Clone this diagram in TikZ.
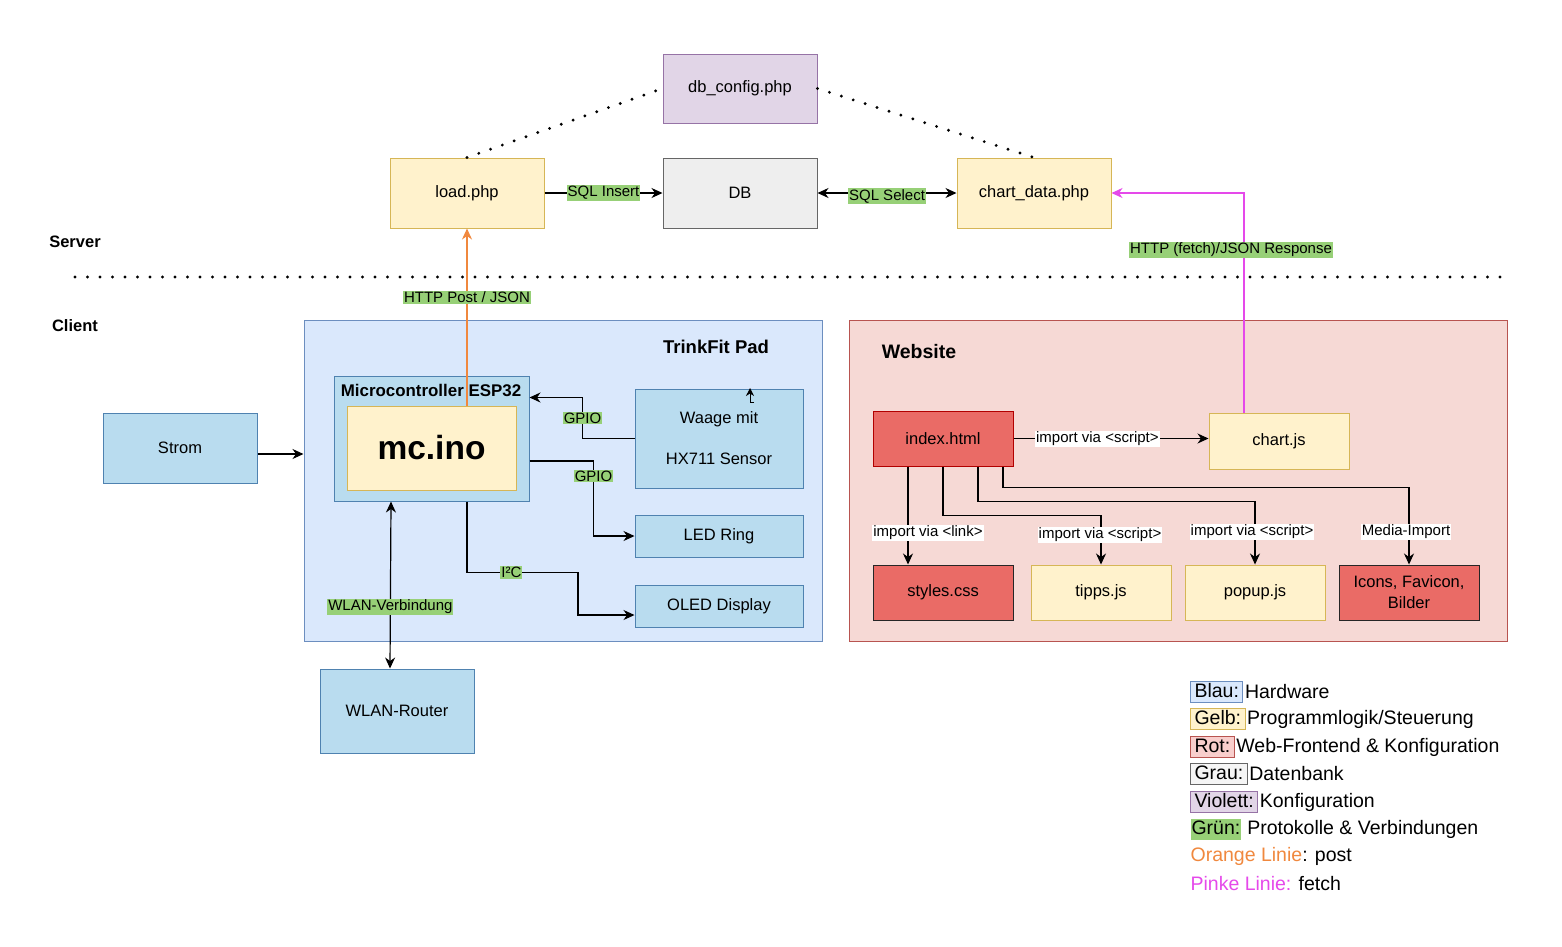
\documentclass[tikz,border=0pt]{standalone}
\usepackage{fontspec}
\setmainfont{Liberation Sans}
\usetikzlibrary{arrows.meta}

\definecolor{gelbF}{HTML}{FFF2CC}
\definecolor{gelbR}{HTML}{D6B656}
\definecolor{hwF}{HTML}{B9DCEF}
\definecolor{hwR}{HTML}{4F82B0}
\definecolor{blauF}{HTML}{DAE8FC}
\definecolor{blauR}{HTML}{6C8EBF}
\definecolor{webF}{HTML}{F6D9D5}
\definecolor{webR}{HTML}{B85450}
\definecolor{rotF}{HTML}{EA6B66}
\definecolor{rotR}{HTML}{B20000}
\definecolor{rotL}{HTML}{F8CECC}
\definecolor{grauF}{HTML}{EEEEEE}
\definecolor{grauR}{HTML}{666666}
\definecolor{violF}{HTML}{E1D5E7}
\definecolor{violR}{HTML}{9673A6}
\definecolor{gruen}{HTML}{97D077}
\definecolor{orangeL}{HTML}{F0883E}
\definecolor{pinkL}{HTML}{E549EA}

\begin{document}
\begin{tikzpicture}[x=1pt,y=-1pt,line width=1.2pt,>={Stealth[length=11pt,width=10pt,inset=3.5pt]}]
				\tikzstyle{every node}=[font=\fontsize{16.5}{20}\selectfont]
				\tikzstyle{blk}=[draw, line width=1pt, minimum width=154pt, minimum height=70pt, inner sep=2pt, align=center]
				\tikzstyle{gelb}=[blk, fill=gelbF, draw=gelbR]
				\tikzstyle{hw}=[blk, fill=hwF, draw=hwR]
				\tikzstyle{web}=[blk, minimum width=140pt, minimum height=55pt]
				\tikzstyle{lbl}=[fill=gruen, inner sep=1pt, font=\fontsize{15}{17}\selectfont]
				\tikzstyle{wlbl}=[fill=white, inner sep=1pt, font=\fontsize{15}{17}\selectfont]
				\tikzstyle{ttl}=[font=\bfseries\fontsize{19.5}{22}\selectfont]
				\tikzstyle{side}=[font=\bfseries\fontsize{16.5}{20}\selectfont]
				\tikzstyle{dots}=[line width=3.2pt, line cap=round, dash pattern=on 0pt off 12.5pt]
				\tikzstyle{legkey}=[anchor=west, draw, line width=1pt, inner xsep=4pt, inner ysep=1.5pt, text height=14pt, text depth=4pt, font=\fontsize{19.5}{22}\selectfont]
				\tikzstyle{leg}=[anchor=west, inner xsep=1pt, font=\fontsize{19.5}{22}\selectfont]
				\useasboundingbox (0,0) rectangle (1562,946);

				\node[blk, fill=violF, draw=violR, minimum height=69pt] (dbconfig) at (740,88.5) {db\_config.php};
				\node[gelb] (load) at (467,193) {load.php};
				\node[blk, fill=grauF, draw=grauR] (db) at (740,193) {DB};
				\node[gelb] (chartdata) at (1034,193) {chart\_data.php};

				\node[side] (server) at (75,242) {Server};
				\node[side] (client) at (75,326) {Client};
				\draw[dots] (75,277) -- (1502,277);

				\node[draw=blauR, fill=blauF, line width=1pt, minimum width=518pt, minimum height=321pt] (trink) at (563,480.5) {};
				\node[ttl, font=\bfseries\fontsize{18.5}{22}\selectfont] (trinkttl) at (716,347) {TrinkFit Pad};
				\node[hw, minimum width=195pt, minimum height=125pt] (esp) at (431.5,438.5) {};
				\node[font=\bfseries\fontsize{16.9}{20}\selectfont] (espttl) at (431,390) {Microcontroller ESP32};
				\node[gelb, minimum width=169pt, minimum height=84pt, font=\bfseries\fontsize{33.5}{36}\selectfont] (mcino) at (431.5,448) {mc.ino};
				\node[hw, minimum width=168pt, minimum height=99pt] (waage) at (719,438.5) {Waage mit\\[21pt]HX711 Sensor};
				\node[hw, minimum width=168pt, minimum height=42pt] (ledring) at (719,536) {LED Ring};
				\node[hw, minimum width=168pt, minimum height=42pt] (oled) at (719,606) {OLED Display};
				\node[hw] (strom) at (180,448) {Strom};
				\node[hw, minimum height=84pt] (router) at (397,711) {WLAN-Router};

				\node[draw=webR, fill=webF, line width=1pt, minimum width=658pt, minimum height=321pt] (website) at (1178,480.5) {};
				\node[ttl] (webttl) at (919,352) {Website};
				\node[web, fill=rotF, draw=rotR] (index) at (943,438.5) {index.html};
				\node[web, fill=gelbF, draw=gelbR, minimum height=56pt] (chartjs) at (1279,441) {chart.js};
				\node[web, fill=rotF, draw=black!85] (styles) at (943,592.5) {styles.css};
				\node[web, fill=gelbF, draw=gelbR] (tipps) at (1101,592.5) {tipps.js};
				\node[web, fill=gelbF, draw=gelbR] (popup) at (1255,592.5) {popup.js};
				\node[web, fill=rotF, draw=black!85, font=\fontsize{16.5}{21}\selectfont] (icons) at (1409,592.5) {Icons, Favicon,\\Bilder};

				\draw[dots] (load.north) -- (dbconfig.west);
				\draw[dots] (dbconfig.east) -- (chartdata.north);
				\draw[->] (load) -- node[lbl] (lins) {SQL Insert} (db);
				\draw[<->] (db) -- node[lbl, yshift=-3pt] (lsel) {SQL Select} (chartdata);
				\draw[->, pinkL] ([xshift=-35pt]chartjs.north) |- (chartdata.east);
				\node[lbl] (lfetch) at (1231,250) {HTTP (fetch)/JSON Response};
				\draw[->, orangeL] (mcino.north -| load.south) -- node[lbl, pos=0.61, text=black] (lpost) {HTTP Post / JSON} (load.south);

				\draw[->] (waage.west) -- ++(-52,0) |- node[lbl, pos=0.25] (lgpio) {GPIO} ([yshift=-22pt]esp.north east);
				\draw[->] ([yshift=-22.5pt]esp.east) -- ++(64,0) |- node[lbl, pos=0.1] (lgpiob) {GPIO} (ledring.west);
				\draw[->] ([xshift=35.5pt]esp.south) -- ++(0,71) -- node[lbl, pos=0.4] (li2c) {I²C} ++(111,0) |- ([yshift=-9pt]oled.west);
				\draw[<->] ([xshift=-40.5pt]esp.south) -- node[lbl, pos=0.63] (lwlan) {WLAN-Verbindung} ([xshift=-7pt]router.north);
				\draw[->] ([yshift=-6pt]strom.east) -- ([yshift=-6pt]strom.east -| trink.west);
				\coordinate (stub) at (754,402);
				\draw[->, line width=1pt, >={Stealth[length=8pt,width=8pt,inset=2.5pt]}] (stub) -- ++(-4,0) -- ++(0,-14);

				\draw[->] (index.east) -- node[wlbl, pos=0.43] (lchart) {import via <script>} (index.east -| chartjs.west);
				\draw[->] ([xshift=-35pt]index.south) -- ([xshift=-35pt]styles.north);
				\draw[->] (index.south) -- ++(0,49) -| (tipps.north);
				\draw[->] ([xshift=35pt]index.south) -- ++(0,35) -| (popup.north);
				\draw[->] ([xshift=60pt]index.south) -- ++(0,21) -| (icons.north);
				\node[wlbl] (lcss) at (928,533) {import via <link>};
				\node[wlbl] (ltipps) at (1100,535) {import via <script>};
				\node[wlbl] (lpopup) at (1252,532) {import via <script>};
				\node[wlbl] (licons) at (1406,532) {Media-Import};

				\node[legkey, fill=blauF, draw=blauR] (kblau) at (1190,692) {Blau:};
				\node[leg] (tblau) at (kblau.east) {Hardware};
				\node[legkey, fill=gelbF, draw=gelbR] (kgelb) at (1190,719) {Gelb:};
				\node[leg] (tgelb) at (kgelb.east) {Programmlogik/Steuerung};
				\node[legkey, fill=rotL, draw=webR] (krot) at (1190,747) {Rot:};
				\node[leg] (trot) at (krot.east) {Web-Frontend \& Konfiguration};
				\node[legkey, fill=grauF!60, draw=grauR] (kgrau) at (1190,774) {Grau:};
				\node[leg] (tgrau) at (kgrau.east) {Datenbank};
				\node[legkey, fill=violF, draw=violR] (kviol) at (1190,802) {Violett:};
				\node[leg] (tviol) at (kviol.east) {Konfiguration};
				\node[legkey, fill=gruen, draw=none, inner xsep=1pt] (kgruen) at (1190,829) {Grün:};
				\node[leg, xshift=4pt] (tgruen) at (kgruen.east) {Protokolle \& Verbindungen};
				\node[leg, inner xsep=0pt] (torange) at (1190,856) {\textcolor{orangeL}{Orange Linie}: post};
				\node[leg, inner xsep=0pt] (tpink) at (1190,884) {\textcolor{pinkL}{Pinke Linie:} fetch};
				\end{tikzpicture}
\end{document}
